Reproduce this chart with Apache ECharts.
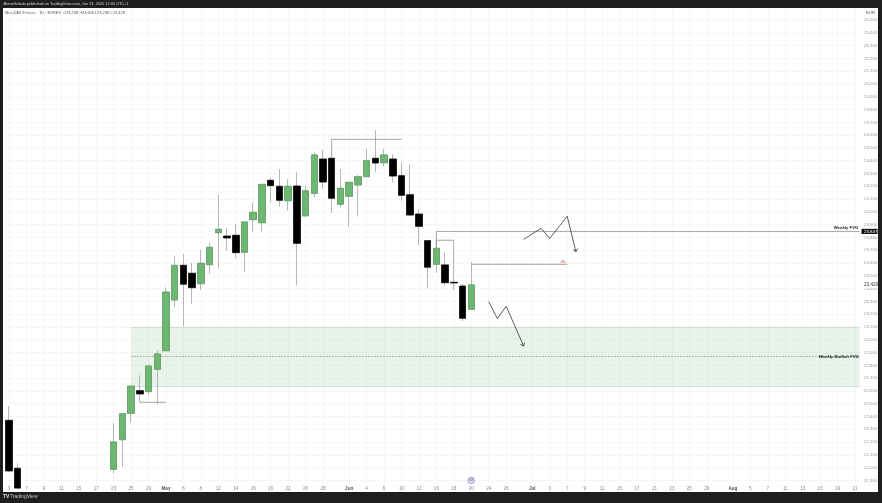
<!DOCTYPE html>
<html>
<head>
<meta charset="utf-8">
<style>html,body{margin:0;padding:0;background:#1e1e1e}#c{width:882px;height:503px}</style>
<script src="https://cdn.jsdelivr.net/npm/echarts@6/dist/echarts.min.js"></script>
</head>
<body>
<div id="c"></div>
<script>
const categories = ['3','4','7','8','9','10','11','14','15','16','17','22','23','24','25','28','29','30','May','5','6','7','8','9','12','13','14','15','16','19','20','21','22','23','26','27','28','29','30','Jun','3','4','5','6','9','10','11','12','13','16','17','18','19','20','23','24','25','26','27','30','Jul','2','3','4','7','8','9','10','11','14','15','16','17','18','21','22','23','24','25','28','29','30','31','Aug','4','5','6','7','8','11','12','13','14','15','18','19','20','21'];
const tickIndex = [0,2,4,6,8,10,12,14,16,18,20,22,24,26,28,30,32,34,36,39,41,43,45,47,49,51,53,55,57,60,62,64,66,68,70,72,74,76,78,80,83,85,87,89,91,93,95,97];
const monthLabels = ['May','Jun','Jul','Aug'];
const priceTicks = [21900,22000,22100,22200,22300,22400,22500,22600,22700,22800,22900,23000,23100,23200,23300,23400,23500,23600,23700,23800,23900,24000,24100,24200,24300,24400,24500,24600,24700,24800,24900,25000,25100,25200,25300,25400,25500];
const opens  = [22370,21995,null,null,null,null,null,null,null,null,null,null,21987,22218,22425,22602,22594,22769,22914,23311,23582,23520,23438,23587,23837,23811,23817,23684,23939,23915,24247,24200,24087,24202,23968,24145,24413,24419,24059,24122,24210,24275,24419,24384,24413,24283,24134,23983,23775,23590,23585,23449,23420,23238];
const closes = [21974,21840,null,null,null,null,null,null,null,null,null,null,22201,22422,22638,22576,22795,22889,23373,23582,23434,23407,23598,23723,23864,23796,23681,23921,23997,24215,24205,24090,24200,23754,24165,24445,24233,24106,24184,24231,24275,24400,24382,24445,24280,24129,23975,23887,23567,23715,23446,23444,23168,23429];
const lows   = [21964,21830,null,null,null,null,null,null,null,null,null,null,21956,22007,22351,22511,22570,22495,22914,23254,23102,23277,23389,23516,23563,23696,23639,23530,23845,23845,24075,24040,24009,23428,23968,24111,24179,23993,24040,23884,23962,24275,24314,24353,24231,24087,23975,23741,23407,23524,23420,23387,23147,23238];
const highs  = [22482,22034,null,null,null,null,null,null,null,null,null,null,22351,22422,22638,22722,22803,22914,23410,23655,23670,23602,23702,23759,24132,23871,23905,23921,24075,24215,24270,24333,24255,24309,24205,24463,24484,24419,24333,24231,24288,24491,24640,24491,24452,24387,24369,24020,23775,23715,23684,23775,23436,23606];

// Drawn annotations, as [category index, price]; null index = runs to the right edge of the plot
const zoneStartIndex = 14, zoneTop = 23097, zoneBottom = 22634, zoneMid = 22869;
const weeklyFvg = 23847, lastClose = 23429;
const levelLines = [
  [[37,24419],[37,24567],[45,24567]],
  [[15,22511],[18,22511]],
  [[49,23715],[49,23778],[51,23778]],
  [[49,23715],[49,weeklyFvg],[null,weeklyFvg]],
  [[53,23590],[64,23590]]
];
const arrowLines = [
  [[55,23298],[56,23165],[57,23262],[59,22951]],
  [[59,23785],[61,23871],[62,23793],[64,23965],[65,23689]]
];
const eventIndex = 53, eventPrice = 21900;

const FONT = '"Liberation Sans", Arial, sans-serif';
const chart = echarts.init(document.getElementById('c'), null, {renderer:'canvas'});

const wickData = categories.map((_,i)=> opens[i]==null ? ['-','-','-','-'] : [opens[i],closes[i],lows[i],highs[i]]);
const bodyData = categories.map((_,i)=> opens[i]==null ? ['-','-','-','-'] :
  [opens[i],closes[i],Math.min(opens[i],closes[i]),Math.max(opens[i],closes[i])]);

function toPts(api,params,line){
  const cs = params.coordSys;
  return line.map(p=>{
    const c = api.coord([p[0]==null?0:p[0],p[1]]);
    return [p[0]==null ? cs.x+cs.width : c[0], c[1]];
  });
}
function polySeries(lines,color,width,arrow){
  return {
    type:'custom', silent:true, z:4, animation:false,
    data:lines.map(l=>[l[0][0],l[0][1]]), encode:{x:0,y:1},
    renderItem(params,api){
      const pts = toPts(api,params,lines[params.dataIndex]);
      const kids = [{type:'polyline',shape:{points:pts},style:{stroke:color,lineWidth:width,fill:null}}];
      if(arrow){
        const a = pts[pts.length-2], b = pts[pts.length-1];
        const t = Math.atan2(b[1]-a[1],b[0]-a[0]), L = 3.6;
        kids.push({type:'polyline',shape:{points:[
          [b[0]-L*Math.cos(t-0.7),b[1]-L*Math.sin(t-0.7)],b,
          [b[0]-L*Math.cos(t+0.7),b[1]-L*Math.sin(t+0.7)]]},
          style:{stroke:color,lineWidth:width,fill:null}});
      }
      return {type:'group',children:kids};
    }
  };
}

chart.setOption({
  animation:false,
  backgroundColor:'#1e1e1e',
  graphic:[
    {type:'rect',z:-5,silent:true,shape:{x:3,y:8,width:875,height:484},style:{fill:'#ffffff'}},
    {type:'text',x:3.5,y:2,style:{text:'ArtemSakalo published on TradingView.com, Jun 23, 2025 12:05 UTC+1',fill:'#d8d8d8',font:'3.9px '+FONT}},
    {type:'text',x:5,y:10.5,style:{text:'Mini-DAX Futures \u00b7 1D \u00b7 EUREX  O23,238 H23,606 L23,238 C23,429',fill:'#555',font:'3.9px '+FONT}},
    {type:'text',x:3,y:494.5,style:{text:'TV',fill:'#e8e8e8',font:'bold 5px '+FONT}},
    {type:'text',x:10,y:494.5,style:{text:'TradingView',fill:'#c8c8c8',font:'5px '+FONT}},
    {type:'rect',z:3,silent:true,shape:{x:864,y:10,width:13,height:6,r:1},style:{fill:'#fff',stroke:'#eee',lineWidth:0.5}},
    {type:'text',z:4,x:870.5,y:11,style:{text:'EUR',fill:'#555',align:'center',font:'4.2px '+FONT}}
  ],
  grid:{left:4.64,top:8,width:854.76,height:476,containLabel:false},
  xAxis:{
    type:'category',data:categories,boundaryGap:true,
    axisLine:{show:false},axisTick:{show:false},
    axisLabel:{
      interval:(i)=>tickIndex.includes(i),margin:2,color:'#888',fontSize:4.6,fontFamily:FONT,
      hideOverlap:false,showMinLabel:true,showMaxLabel:true,
      formatter:(v)=>monthLabels.includes(v)?'{m|'+v+'}':v,
      rich:{m:{color:'#555',fontSize:4.6,fontWeight:'bold',fontFamily:FONT}}
    },
    splitLine:{show:true,alignWithLabel:true,interval:(i)=>tickIndex.includes(i),lineStyle:{color:'#f3f3f3',width:0.7}}
  },
  yAxis:{
    type:'value',position:'right',min:21872,max:25594,scale:true,
    axisLine:{show:false},axisTick:{show:false,customValues:priceTicks},
    axisLabel:{customValues:priceTicks,margin:4.6,color:'#999',fontSize:4.4,fontFamily:FONT,
      formatter:(v)=>v.toLocaleString('en-US')},
    splitLine:{show:true,lineStyle:{color:'#f3f3f3',width:0.7}}
  },
  series:[
    { // green zone
      type:'custom',silent:true,z:1,animation:false,
      data:[[zoneStartIndex,zoneTop]],encode:{x:0,y:1},
      renderItem(params,api){
        const cs=params.coordSys, x0=api.coord([zoneStartIndex,zoneTop])[0], x1=cs.x+cs.width;
        const yt=api.coord([zoneStartIndex,zoneTop])[1], yb=api.coord([zoneStartIndex,zoneBottom])[1];
        const ym=api.coord([zoneStartIndex,zoneMid])[1];
        return {type:'group',children:[
          {type:'rect',shape:{x:x0,y:yt,width:x1-x0,height:yb-yt},style:{fill:'rgba(76,160,90,0.13)'}},
          {type:'line',shape:{x1:x0,y1:yt,x2:x1,y2:yt},style:{stroke:'#c6d6c8',lineWidth:0.8}},
          {type:'line',shape:{x1:x0,y1:yb,x2:x1,y2:yb},style:{stroke:'#c6d6c8',lineWidth:0.8}},
          {type:'line',shape:{x1:x0,y1:ym,x2:x1,y2:ym},style:{stroke:'#666',lineWidth:0.6,lineDash:[1.5,1.5]}},
          {type:'text',z2:5,style:{x:x1-0.5,y:ym,text:'Weekly Bullish FVG',align:'right',verticalAlign:'middle',fill:'#222',font:'italic bold 4.3px '+FONT}}
        ]};
      }
    },
    { // wicks
      type:'candlestick',data:wickData,barWidth:7,z:2,silent:true,
      itemStyle:{color:'#a3a3a3',color0:'#a3a3a3',borderColor:'#a3a3a3',borderColor0:'#a3a3a3',borderWidth:0.8}
    },
    { // bodies
      type:'candlestick',data:bodyData,barWidth:7,z:3,silent:true,
      itemStyle:{color:'#6cb870',color0:'#000000',borderColor:'#5c9a62',borderColor0:'#000000',borderWidth:0.6}
    },
    polySeries(levelLines,'#8f8f8f',0.8,false),
    polySeries(arrowLines,'#333333',0.8,true),
    { // labels and price tags tied to prices
      type:'custom',silent:true,z:5,animation:false,
      data:[[eventIndex,weeklyFvg]],encode:{x:0,y:1},
      renderItem(params,api){
        const cs=params.coordSys, xr=cs.x+cs.width;
        const yw=api.coord([0,weeklyFvg])[1], yc=api.coord([0,lastClose])[1];
        const ev=api.coord([eventIndex,eventPrice]);
        const lv=api.coord([64,23590]);
        return {type:'group',children:[
          {type:'text',style:{x:xr-1,y:yw-3.6,text:'Weekly FVG',align:'right',verticalAlign:'middle',fill:'#222',font:'bold 4.3px '+FONT}},
          {type:'rect',shape:{x:861.5,y:yw-2.6,width:16,height:5.2},style:{fill:'#111'}},
          {type:'text',style:{x:864,y:yw,text:'23,847',verticalAlign:'middle',fill:'#fff',font:'4.4px '+FONT}},
          {type:'rect',shape:{x:862,y:yc-3,width:16,height:6},style:{fill:'#fff'}},
          {type:'text',style:{x:864,y:yc,text:'23,429',verticalAlign:'middle',fill:'#333',font:'4.6px '+FONT}},
          {type:'text',style:{x:lv[0]-0.5,y:lv[1]-2,text:'-BB-',align:'right',verticalAlign:'middle',fill:'#e57373',font:'3.6px '+FONT}},
          {type:'circle',shape:{cx:ev[0],cy:ev[1],r:3.2},style:{fill:'#e4dcf5',stroke:'#8e7cc3',lineWidth:0.7}},
          {type:'text',style:{x:ev[0],y:ev[1],text:'58',align:'center',verticalAlign:'middle',fill:'#6a52a8',font:'3.4px '+FONT}}
        ]};
      }
    }
  ]
});
</script>
</body>
</html>
